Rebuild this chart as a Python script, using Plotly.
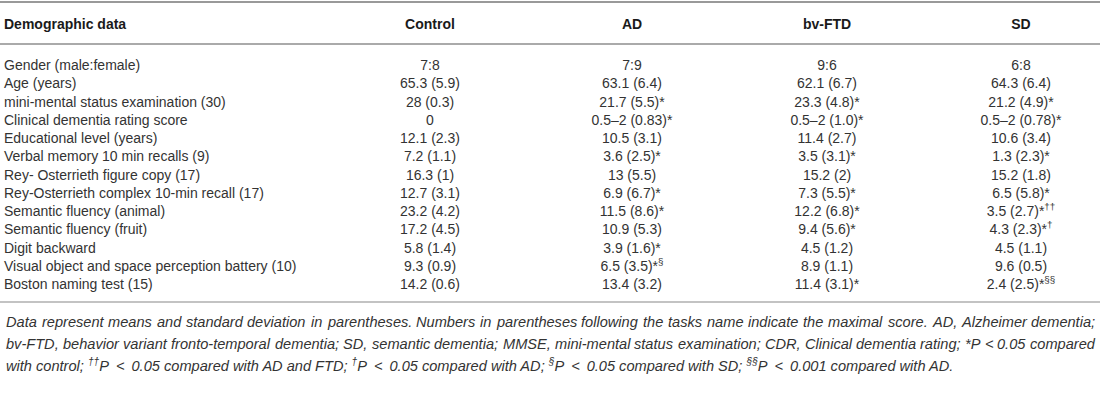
import plotly.graph_objects as go

# ---------------- data ----------------
headers = ["Demographic data", "Control", "AD", "bv-FTD", "SD"]

row_labels = [
    "Gender (male:female)",
    "Age (years)",
    "mini-mental status examination (30)",
    "Clinical dementia rating score",
    "Educational level (years)",
    "Verbal memory 10 min recalls (9)",
    "Rey- Osterrieth figure copy (17)",
    "Rey-Osterrieth complex 10-min recall (17)",
    "Semantic fluency (animal)",
    "Semantic fluency (fruit)",
    "Digit backward",
    "Visual object and space perception battery (10)",
    "Boston naming test (15)",
]

control = ["7:8", "65.3 (5.9)", "28 (0.3)", "0", "12.1 (2.3)", "7.2 (1.1)",
           "16.3 (1)", "12.7 (3.1)", "23.2 (4.2)", "17.2 (4.5)", "5.8 (1.4)",
           "9.3 (0.9)", "14.2 (0.6)"]

ad = ["7:9", "63.1 (6.4)", "21.7 (5.5)*", "0.5–2 (0.83)*", "10.5 (3.1)",
      "3.6 (2.5)*", "13 (5.5)", "6.9 (6.7)*", "11.5 (8.6)*", "10.9 (5.3)",
      "3.9 (1.6)*", "6.5 (3.5)*<sup>§</sup>", "13.4 (3.2)"]

bvftd = ["9:6", "62.1 (6.7)", "23.3 (4.8)*", "0.5–2 (1.0)*", "11.4 (2.7)",
         "3.5 (3.1)*", "15.2 (2)", "7.3 (5.5)*", "12.2 (6.8)*", "9.4 (5.6)*",
         "4.5 (1.2)", "8.9 (1.1)", "11.4 (3.1)*"]

sd = ["6:8", "64.3 (6.4)", "21.2 (4.9)*", "0.5–2 (0.78)*", "10.6 (3.4)",
      "1.3 (2.3)*", "15.2 (1.8)", "6.5 (5.8)*", "3.5 (2.7)*<sup>††</sup>",
      "4.3 (2.3)*<sup>†</sup>", "4.5 (1.1)", "9.6 (0.5)", "2.4 (2.5)*<sup>§§</sup>"]

footnote_lines = [
    "Data represent means and standard deviation in parentheses. Numbers in parentheses following the tasks name indicate the maximal score. AD, Alzheimer dementia;",
    "bv-FTD, behavior variant fronto-temporal dementia; SD, semantic dementia; MMSE, mini-mental status examination; CDR, Clinical dementia rating; *P < 0.05 compared",
    "with control; <sup>††</sup>P\u2009 < \u20090.05 compared with AD and FTD; <sup>†</sup>P\u2009 < \u20090.05 compared with AD; <sup>§</sup>P\u2009 < \u20090.05 compared with SD; <sup>§§</sup>P\u2009 < \u20090.001 compared with AD.",
]
justified = [True, True, False]

# ---------------- layout constants ----------------
W, H = 1100, 402
FONT = "Liberation Sans, Arial, Helvetica, sans-serif"
TXT = "#333333"
FS = 14
FS_FOOT = 14.6
col_x = [4, 430, 632, 827, 1021]
HEAD_Y = 25
ROW0, ROWH = 66.5, 18.25
n = len(row_labels)
row_y = [ROW0 + i * ROWH for i in range(n)]
TOP_RULE, HEAD_RULE = 2, 44
BOTTOM_RULE = 302
FOOT0, FOOTH = 322, 21.5
FOOT_LEFT, FOOT_RIGHT = 5, 1094

# Arial / Helvetica advance widths (per 1000 em) for justification of footnote
_W = {' ': 278, ',': 278, '-': 333, '.': 278, ';': 278, ':': 278, '(': 333, ')': 333,
      '*': 389, '<': 584, '0': 556, '1': 556, '2': 556, '3': 556, '4': 556, '5': 556,
      '6': 556, '7': 556, '8': 556, '9': 556,
      'A': 667, 'B': 667, 'C': 722, 'D': 722, 'E': 667, 'F': 611, 'G': 778, 'H': 722,
      'I': 278, 'J': 500, 'K': 667, 'L': 556, 'M': 833, 'N': 722, 'O': 778, 'P': 667,
      'Q': 778, 'R': 722, 'S': 667, 'T': 611, 'U': 722, 'V': 667, 'W': 944, 'X': 667,
      'Y': 667, 'Z': 611,
      'a': 556, 'b': 556, 'c': 500, 'd': 556, 'e': 556, 'f': 278, 'g': 556, 'h': 556,
      'i': 222, 'j': 222, 'k': 500, 'l': 222, 'm': 833, 'n': 556, 'o': 556, 'p': 556,
      'q': 556, 'r': 333, 's': 500, 't': 278, 'u': 556, 'v': 500, 'w': 722, 'x': 500,
      'y': 500, 'z': 500}


def text_width(s, size):
    return sum(_W.get(ch, 556) for ch in s) * size / 1000.0


fig = go.Figure()

# header row
fig.add_trace(go.Scatter(
    x=[col_x[0]], y=[HEAD_Y], mode="text", text=["<b>" + headers[0] + "</b>"],
    textposition="middle right", textfont=dict(family=FONT, size=FS, color="#1a1a1a"),
    hoverinfo="skip", showlegend=False))
fig.add_trace(go.Scatter(
    x=col_x[1:], y=[HEAD_Y] * 4, mode="text",
    text=["<b>" + h + "</b>" for h in headers[1:]],
    textposition="middle center", textfont=dict(family=FONT, size=FS, color="#1a1a1a"),
    hoverinfo="skip", showlegend=False))

# row labels
fig.add_trace(go.Scatter(
    x=[col_x[0]] * n, y=row_y, mode="text", text=row_labels,
    textposition="middle right", textfont=dict(family=FONT, size=FS, color=TXT),
    hoverinfo="skip", showlegend=False))

# value columns
for cx, vals in zip(col_x[1:], [control, ad, bvftd, sd]):
    fig.add_trace(go.Scatter(
        x=[cx] * n, y=row_y, mode="text", text=vals,
        textposition="middle center", textfont=dict(family=FONT, size=FS, color=TXT),
        hoverinfo="skip", showlegend=False))

# rules
fig.add_shape(type="line", x0=0, x1=W, y0=TOP_RULE, y1=TOP_RULE, xref="x", yref="y",
              line=dict(color="#777777", width=1.6))
fig.add_shape(type="line", x0=0, x1=W, y0=HEAD_RULE, y1=HEAD_RULE, xref="x", yref="y",
              line=dict(color="#aaaaaa", width=2))
fig.add_shape(type="line", x0=0, x1=W, y0=BOTTOM_RULE, y1=BOTTOM_RULE, xref="x", yref="y",
              line=dict(color="#888888", width=1.2))

# footnote (justified like the journal layout)
foot_font = dict(family=FONT, size=FS_FOOT, color=TXT, style="italic")
for i, line in enumerate(footnote_lines):
    yy = FOOT0 + i * FOOTH
    if justified[i]:
        words = line.split(" ")
        widths = [text_width(w, FS_FOOT) for w in words]
        gap = (FOOT_RIGHT - FOOT_LEFT - sum(widths)) / (len(words) - 1)
        xx = FOOT_LEFT
        for w, ww in zip(words, widths):
            fig.add_annotation(x=xx, y=yy, xref="x", yref="y", text=w, showarrow=False,
                               xanchor="left", yanchor="middle", borderpad=0,
                               font=foot_font)
            xx += ww + gap
    else:
        fig.add_annotation(x=FOOT_LEFT, y=yy, xref="x", yref="y", text=line,
                           showarrow=False, xanchor="left", yanchor="middle",
                           borderpad=0, font=foot_font)

fig.update_xaxes(range=[0, W], visible=False, fixedrange=True)
fig.update_yaxes(range=[H, 0], visible=False, fixedrange=True)
fig.update_layout(width=W, height=H, margin=dict(l=0, r=0, t=0, b=0),
                  plot_bgcolor="white", paper_bgcolor="white")

fig.write_html("out.html", config={"displayModeBar": False},
               post_script="document.body.style.margin='0';document.body.style.overflow='hidden';")
